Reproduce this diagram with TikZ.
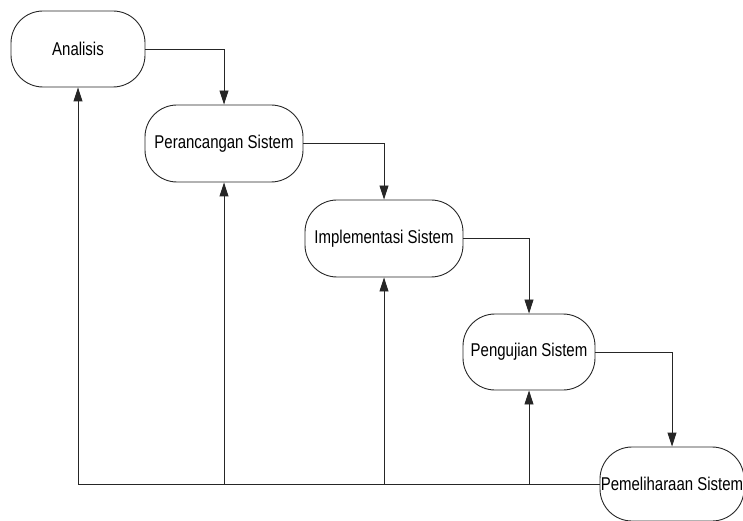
\documentclass[tikz,border=0pt]{standalone}
\usepackage{fontspec}
\setmainfont{Liberation Sans}[FakeStretch=0.81]
\usetikzlibrary{arrows.meta}
\begin{document}
\begin{tikzpicture}[x=1bp,y=-1bp,
  stage/.style={draw=black!85, line width=0.9bp, rounded corners=32bp, inner sep=0pt,
    font=\fontsize{18.5bp}{21bp}\selectfont, align=center},
  flow/.style={draw=black!85, line width=0.9bp, -{Triangle[length=14bp,width=9bp]}},
  plain/.style={draw=black!85, line width=0.9bp}]
\useasboundingbox (0,0) rectangle (743,521);
\node[stage, minimum width=134bp, minimum height=76bp] (A) at (78,49) {Analisis};
\node[stage, minimum width=158bp, minimum height=77bp] (P) at (224,143.5) {Perancangan Sistem};
\node[stage, minimum width=158bp, minimum height=77bp] (I) at (384,238.5) {Implementasi Sistem};
\node[stage, minimum width=132bp, minimum height=76bp] (U) at (529,352) {Pengujian Sistem};
\node[stage, minimum width=144bp, minimum height=74bp] (M) at (672,484) {Pemeliharaan Sistem};
\draw[flow] (A.east) -| (P.north);
\draw[flow] (P.east) -| (I.north);
\draw[flow] (I.east) -| (U.north);
\draw[flow] (U.east) -| (M.north);
\coordinate (b0) at (A.south |- M.west);
\coordinate (b1) at (P.south |- M.west);
\coordinate (b2) at (I.south |- M.west);
\coordinate (b3) at (U.south |- M.west);
\draw[plain] (M.west) -- (b0);
\draw[flow] (b0) -- (A.south);
\draw[flow] (b1) -- (P.south);
\draw[flow] (b2) -- (I.south);
\draw[flow] (b3) -- (U.south);
\end{tikzpicture}
\end{document}
